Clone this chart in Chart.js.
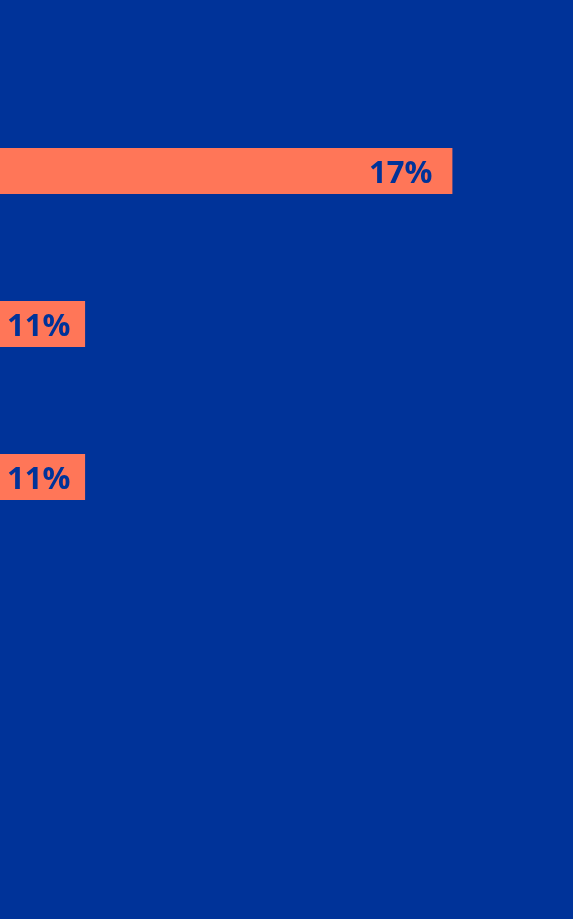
<!DOCTYPE html>
<html>
<head>
<meta charset="utf-8">
<script src="https://cdn.jsdelivr.net/npm/chart.js@4"></script>
<style>
  html, body { margin: 0; padding: 0; background: #003399; }
  #wrap { width: 573px; height: 919px; }
</style>
</head>
<body>
<div id="wrap"><canvas id="barChart"></canvas></div>
<script>
const categories = ['A', 'B', 'C'];
const values = [17, 11, 11];
const valueLabels = ['17%', '11%', '11%'];

// étiquettes dans la barre, à droite
const barLabels = {
  id: 'barLabels',
  afterDatasetsDraw(chart) {
    const c = chart.ctx;
    const meta = chart.getDatasetMeta(0);
    c.save();
    c.font = 'bold 31px "Open Sans"';
    c.fillStyle = '#003399';
    c.textBaseline = 'alphabetic';
    meta.data.forEach((bar, i) => {
      const txt = valueLabels[i];
      const w = c.measureText(txt).width;
      const x = Math.max(bar.x - 20 - w, 7);
      c.fillText(txt, x, bar.y + 12);
    });
    c.restore();
  }
};

const ctx = document.getElementById('barChart').getContext('2d');

const barChart = new Chart(ctx, {
  type: 'bar',
  data: {
    labels: categories,
    datasets: [{
      data: values,
      backgroundColor: '#ff7658', // corail
      borderWidth: 0,
      barPercentage: 0.3,
      categoryPercentage: 1
    }]
  },
  options: {
    indexAxis: 'y',
    responsive: true,
    maintainAspectRatio: false,
    animation: false,
    layout: {
      padding: { top: 94.5, bottom: 365.5, left: 0, right: 0 }
    },
    plugins: {
      legend: { display: false },
      tooltip: { enabled: false }
    },
    scales: {
      x: { display: false, min: 9.61, max: 18.97 },
      y: { display: false }
    }
  },
  plugins: [barLabels]
});
</script>
</body>
</html>
